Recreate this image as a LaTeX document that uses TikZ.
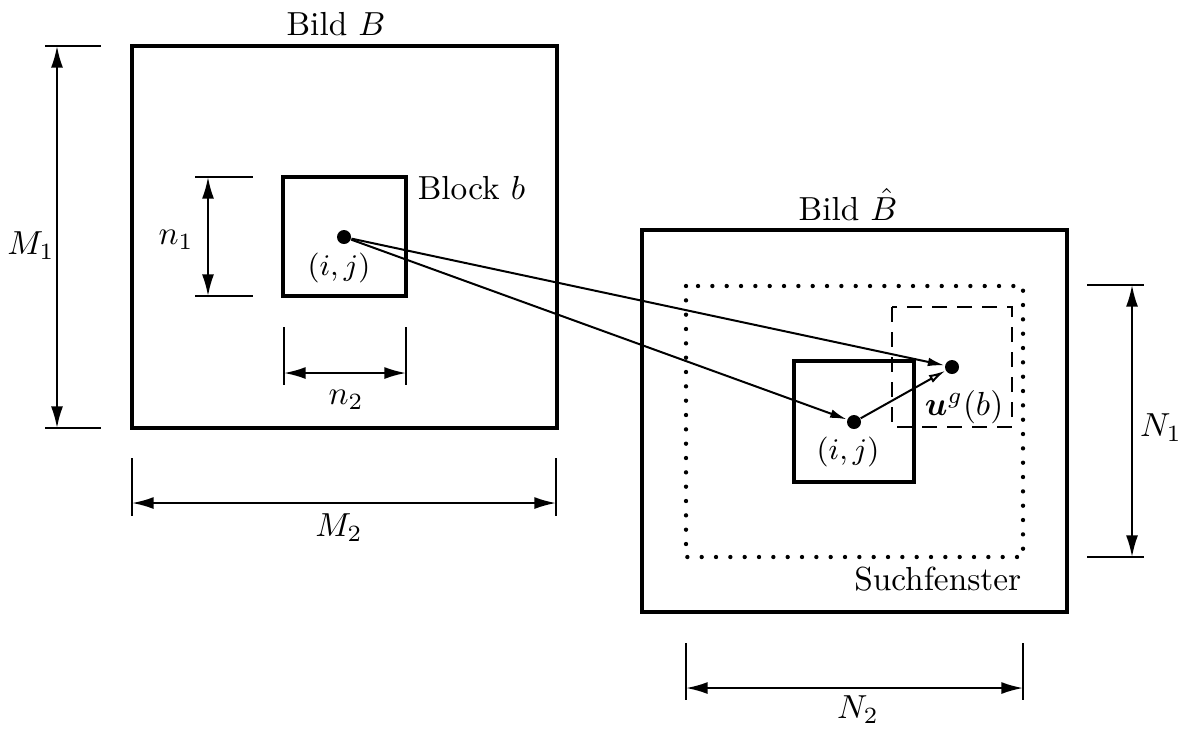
\documentclass[tikz,border=0pt]{standalone}
\usepackage{bm}
\usetikzlibrary{arrows.meta,calc}
\tikzset{
  bild frame/.style={
    line width=1.3pt,
  },
  block frame/.style={
    line width=1.1pt,
  },
  search window/.style={
    line width=1.3pt,
    line cap=round,
    dash pattern=on 0pt off 4.3pt,
  },
  match window/.style={
    line width=0.6pt,
    dash pattern=on 4.5pt off 3pt,
  },
  px point/.style={circle, inner sep=0pt, minimum size=4.2pt, fill=black},
  dim arrow/.style={{Latex[length=6.5pt,width=3.6pt]}-{Latex[length=6.5pt,width=3.6pt]}, line width=0.6pt},
  dim tick/.style={line width=0.6pt},
  mv arrow/.style={-{Latex[length=5pt,width=2.6pt]}, line width=0.6pt},
  mv open arrow/.style={-{Latex[open,length=5pt,width=2.6pt]}, line width=0.6pt},
}
\begin{document}
\begin{tikzpicture}[x=0.3pt,y=-0.3pt]
  \useasboundingbox (0,0) rectangle (1186,728);

  % Bild B
  \draw[bild frame] (132,46) rectangle (557,428);
  \node[anchor=base] (bildB) at (336,35) {Bild $B$};
  \draw[block frame] (283,177) rectangle (406,296);
  \node[anchor=base west] (blockb) at (406,199) {Block $b$};
  \node[px point] (p) at (344,237) {};
  \node[font=\small] (pij) at (339,268) {$(i,j)$};

  % Bild B hat
  \draw[bild frame] (642,230) rectangle (1067,612);
  \node[anchor=base] (bildBh) at (848,220) {Bild $\hat{B}$};
  \draw[search window] (686,286) rectangle (1023,557);
  \node[anchor=base east] (such) at (1033,590) {Suchfenster};
  \draw[match window] (892,307) rectangle (1012,427);
  \draw[block frame] (794,361) rectangle (914,482);
  \node[px point] (q) at (854,422) {};
  \node[font=\small] (qij) at (848,452) {$(i,j)$};
  \node[px point] (u) at (952,367) {};
  \node (ulabel) at (964,407) {$\bm{u}^g(b)$};

  \draw[mv arrow] (p) -- (u);
  \draw[mv arrow] (p) -- (q);
  \draw[mv open arrow] (q) -- (u);

  % dimensions
  \coordinate (m1a) at (57,46);
  \coordinate (m1b) at (57,428);
  \draw[dim tick] (45,46) -- (101,46);
  \draw[dim tick] (45,428) -- (101,428);
  \draw[dim arrow] (m1a) -- (m1b);
  \node (M1) at (31,246) {$M_1$};

  \coordinate (m2a) at (132,503);
  \coordinate (m2b) at (556,503);
  \draw[dim tick] (132,458) -- (132,516);
  \draw[dim tick] (556,458) -- (556,516);
  \draw[dim arrow] (m2a) -- (m2b);
  \node (M2) at (339,528) {$M_2$};

  \coordinate (n1a) at (208,177);
  \coordinate (n1b) at (208,296);
  \draw[dim tick] (195,177) -- (253,177);
  \draw[dim tick] (195,296) -- (253,296);
  \draw[dim arrow] (n1a) -- (n1b);
  \node (n1) at (176,240) {$n_1$};

  \coordinate (n2a) at (284,373);
  \coordinate (n2b) at (406,373);
  \draw[dim tick] (284,327) -- (284,385);
  \draw[dim tick] (406,327) -- (406,385);
  \draw[dim arrow] (n2a) -- (n2b);
  \node (n2) at (346,400) {$n_2$};

  \coordinate (N1a) at (1132,285);
  \coordinate (N1b) at (1132,557);
  \draw[dim tick] (1087,285) -- (1144,285);
  \draw[dim tick] (1087,557) -- (1144,557);
  \draw[dim arrow] (N1a) -- (N1b);
  \node (N1) at (1161,428) {$N_1$};

  \coordinate (N2a) at (686,688);
  \coordinate (N2b) at (1023,688);
  \draw[dim tick] (686,643) -- (686,700);
  \draw[dim tick] (1023,643) -- (1023,700);
  \draw[dim arrow] (N2a) -- (N2b);
  \node (N2) at (858,710) {$N_2$};
\end{tikzpicture}
\end{document}
